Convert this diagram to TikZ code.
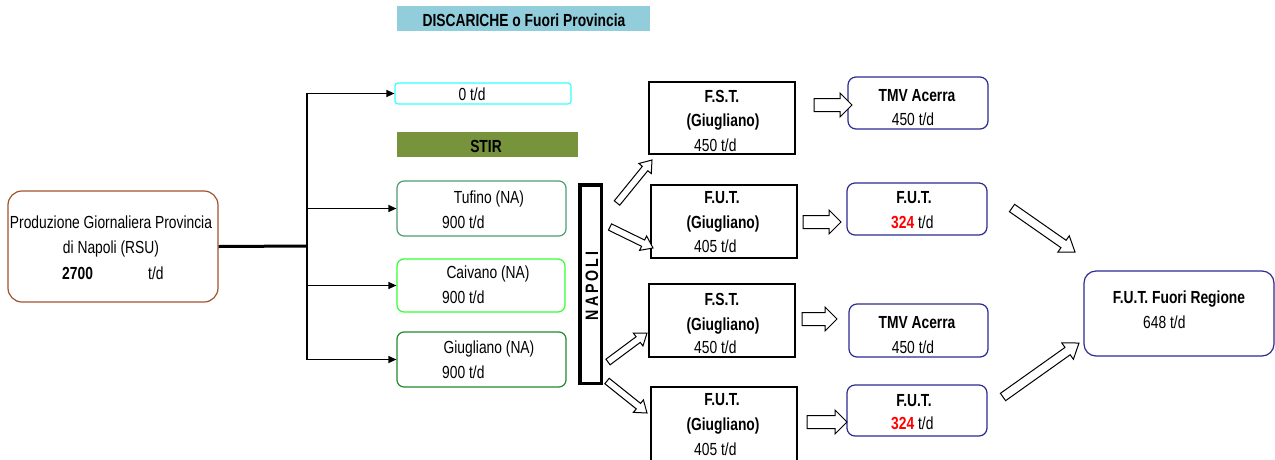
\documentclass[tikz,border=0pt]{standalone}
\usepackage{fontspec}
\setmainfont{Liberation Sans}[FakeStretch=0.79]
\usetikzlibrary{calc,arrows.meta}
\definecolor{bannerblue}{HTML}{92CDDC}
\definecolor{stirgreen}{HTML}{77933C}
\definecolor{brownb}{HTML}{A0522D}
\definecolor{cyanb}{HTML}{33FFFF}
\definecolor{tufb}{HTML}{4C9E73}
\definecolor{caib}{HTML}{33FF33}
\definecolor{giub}{HTML}{1F8A2E}
\definecolor{navyb}{HTML}{2B2B91}
\tikzset{
  box/.style={draw, line width=1.2pt, inner sep=0pt, fill=white},
  sqbox/.style={box, draw=black, line width=1.3pt},
  rbox/.style={box, draw=navyb, rounded corners=8pt},
  gbox/.style={box, rounded corners=7pt},
  txt/.style={inner sep=0pt, anchor=base, font=\fontsize{17.5}{21}\selectfont},
  btxt/.style={txt, font=\fontsize{17.5}{21}\selectfont\bfseries},
  conn/.style={line width=1.2pt, -{Triangle[length=8pt,width=7pt]}},
  barrow/.style={draw=black, line width=1pt, fill=white, line join=miter},
}
\newcommand\blockarrow[5]{%
  \coordinate (ba-h) at ($(#2)!#5!(#1)$);
  \draw[barrow] ($(#1)!#3!90:(#2)$) -- ($(ba-h)!#3!90:(#2)$) -- ($(ba-h)!#4!90:(#2)$) -- (#2)
    -- ($(ba-h)!#4!-90:(#2)$) -- ($(ba-h)!#3!-90:(#2)$) -- ($(#1)!#3!-90:(#2)$) -- cycle;
}
\begin{document}
\begin{tikzpicture}[x=1pt,y=-1pt]
\useasboundingbox (0,0) rectangle (1275,459);
\fill[white] (0,0) rectangle (1275,459);

% source
\node[box, draw=brownb, rounded corners=14pt, minimum width=210pt, minimum height=111pt] (src) at (113,246.5) {};
\node[txt] (src1) at (111,228) {Produzione Giornaliera Provincia};
\node[txt] (src2) at (111,253) {di Napoli (RSU)};
\node[btxt, anchor=base west] (src3) at (62,279) {2700};
\node[txt, anchor=base west] (src4) at (148,279) {t/d};

% banners
\node[fill=bannerblue, inner sep=0pt, minimum width=253pt, minimum height=25pt] (ban) at (523.5,18.5) {};
\node[btxt] (bant) at (524,26) {DISCARICHE o Fuori Provincia};
\node[box, draw=cyanb, rounded corners=3pt, minimum width=176pt, minimum height=21pt] (zero) at (483,93.5) {};
\node[txt] (zerot) at (472,100) {0 t/d};
\node[fill=stirgreen, inner sep=0pt, minimum width=181pt, minimum height=25pt] (stir) at (487.5,144.5) {};
\node[btxt] (stirt) at (486,152) {STIR};

% STIR plants
\node[gbox, draw=tufb, minimum width=169pt, minimum height=55pt] (tuf) at (481.5,208.5) {};
\node[txt] (tuf1) at (489,203) {Tufino (NA)};
\node[txt, anchor=base west] (tuf2) at (442,228) {900 t/d};
\node[gbox, draw=caib, minimum width=168pt, minimum height=53pt] (cai) at (481,285.5) {};
\node[txt] (cai1) at (488,278) {Caivano (NA)};
\node[txt, anchor=base west] (cai2) at (442,303) {900 t/d};
\node[gbox, draw=giub, minimum width=169pt, minimum height=55pt] (giu) at (481.5,359.5) {};
\node[txt] (giu1) at (489,353) {Giugliano (NA)};
\node[txt, anchor=base west] (giu2) at (442,378) {900 t/d};

% Napoli bar
\node[draw=black, line width=3.5pt, inner sep=0pt, minimum width=21.5pt, minimum height=198.5pt] (nap) at (590.5,284) {};
\node[btxt, anchor=center, rotate=90, font=\fontsize{18}{21}\selectfont\bfseries] (napt) at (592,286) {\addfontfeatures{LetterSpace=16}NAPOLI};

% connectors
\coordinate (j) at (307,246);
\draw[line width=3pt] (src.east) -- (j);
\draw[conn] (j) |- (zero.west);
\draw[conn] (j) |- (tuf.west);
\draw[conn] (j) |- (cai.west);
\draw[conn] (j) |- (giu.west);

% F.S.T. / F.U.T. Giugliano
\node[sqbox, minimum width=146pt, minimum height=72pt] (fst1) at (722,118) {};
\node[btxt] (fst1a) at (722,102) {F.S.T.};
\node[btxt] (fst1b) at (723,126) {(Giugliano)};
\node[txt, anchor=base west] (fst1c) at (694,151) {450 t/d};
\node[sqbox, minimum width=146pt, minimum height=73pt] (fut1) at (724,221.5) {};
\node[btxt] (fut1a) at (722,203) {F.U.T.};
\node[btxt] (fut1b) at (723,228) {(Giugliano)};
\node[txt, anchor=base west] (fut1c) at (694,252) {405 t/d};
\node[sqbox, minimum width=146pt, minimum height=73pt] (fst2) at (722,320.5) {};
\node[btxt] (fst2a) at (722,305) {F.S.T.};
\node[btxt] (fst2b) at (723,330) {(Giugliano)};
\node[txt, anchor=base west] (fst2c) at (694,353) {450 t/d};
\node[sqbox, minimum width=146pt, minimum height=83pt] (fut2) at (724,428.5) {};
\node[btxt] (fut2a) at (722,405) {F.U.T.};
\node[btxt] (fut2b) at (723,430) {(Giugliano)};
\node[txt, anchor=base west] (fut2c) at (694,455) {405 t/d};

% destinations
\node[rbox, minimum width=140pt, minimum height=52pt] (tmv1) at (918,103) {};
\node[btxt] (tmv1a) at (917,101) {TMV Acerra};
\node[txt] (tmv1b) at (913,125) {450 t/d};
\node[rbox, minimum width=140pt, minimum height=52pt] (rfut1) at (917,209) {};
\node[btxt] (rfut1a) at (914,203) {F.U.T.};
\node[txt, anchor=base west] (rfut1b) at (891,228) {{\bfseries\color{red}324} t/d};
\node[rbox, minimum width=139pt, minimum height=53pt] (tmv2) at (918.5,330.5) {};
\node[btxt] (tmv2a) at (917,328) {TMV Acerra};
\node[txt] (tmv2b) at (913,353) {450 t/d};
\node[rbox, minimum width=140pt, minimum height=51pt] (rfut2) at (917,410.5) {};
\node[btxt] (rfut2a) at (914,406) {F.U.T.};
\node[txt, anchor=base west] (rfut2b) at (891,429) {{\bfseries\color{red}324} t/d};
\node[rbox, rounded corners=12pt, minimum width=190pt, minimum height=85pt] (reg) at (1179,313.5) {};
\node[btxt] (rega) at (1179,303) {F.U.T. Fuori Regione};
\node[txt, anchor=base west] (regb) at (1143,328) {648 t/d};

% block arrows
\coordinate (ha1s) at (814,105); \coordinate (ha1e) at (852,105);
\coordinate (ha2s) at (803,222); \coordinate (ha2e) at (841,222);
\coordinate (ha3s) at (802,319); \coordinate (ha3e) at (837,319);
\coordinate (ha4s) at (807,422); \coordinate (ha4e) at (847,422);
\blockarrow{ha1s}{ha1e}{6.5pt}{12pt}{12pt}
\blockarrow{ha2s}{ha2e}{6.5pt}{12pt}{12pt}
\blockarrow{ha3s}{ha3e}{6.5pt}{12pt}{12pt}
\blockarrow{ha4s}{ha4e}{6.5pt}{12pt}{12pt}

\coordinate (d1s) at (617,203); \coordinate (d1e) at (652,160);
\coordinate (d2s) at (610,227); \coordinate (d2e) at (653,248);
\coordinate (d3s) at (608,362); \coordinate (d3e) at (647,333);
\coordinate (d4s) at (607,381); \coordinate (d4e) at (647,413);
\blockarrow{d1s}{d1e}{3.5pt}{8pt}{11pt}
\blockarrow{d2s}{d2e}{3.5pt}{8pt}{11pt}
\blockarrow{d3s}{d3e}{3.5pt}{8pt}{11pt}
\blockarrow{d4s}{d4e}{3.5pt}{8pt}{11pt}

\coordinate (b1s) at (1012,208); \coordinate (b1e) at (1075,252);
\coordinate (b2s) at (1003,397); \coordinate (b2e) at (1079,343);
\blockarrow{b1s}{b1e}{4.5pt}{10pt}{14pt}
\blockarrow{b2s}{b2e}{4.5pt}{10pt}{14pt}
\end{tikzpicture}
\end{document}
